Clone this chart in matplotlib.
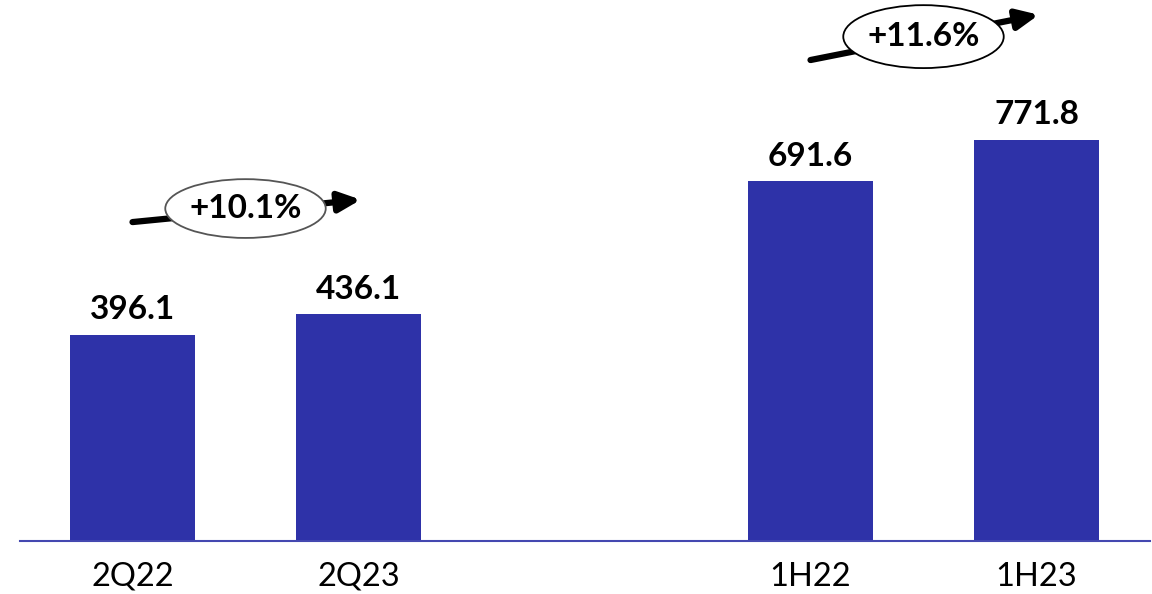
import matplotlib
matplotlib.use("Agg")
import matplotlib.pyplot as plt
from matplotlib.patches import Ellipse

categories = ["2Q22", "2Q23", "1H22", "1H23"]
values = [396.1, 436.1, 691.6, 771.8]
positions = [0, 1, 3, 4]
growth_labels = ["+10.1%", "+11.6%"]
value_labels = ["396.1", "436.1", "691.6", "771.8"]

plt.rcParams['font.family'] = ['Lato', 'DejaVu Sans']

W, H = 1152, 594
fig = plt.figure(figsize=(W / 100, H / 100), dpi=100)
ax = fig.add_axes([19.5 / W, 53 / H, 1130 / W, 541 / H])

bar_color = "#2E32A8"
ax.bar(positions, values, width=0.553, color=bar_color, zorder=2)
ax.set_xlim(-0.5, 4.5)
ax.set_ylim(0, 1040)

for sp in ["top", "right", "left"]:
    ax.spines[sp].set_visible(False)
ax.spines["bottom"].set_color("#4448B0")
ax.spines["bottom"].set_linewidth(1.5)
ax.set_yticks([])
ax.set_xticks(positions)
ax.set_xticklabels(categories, fontsize=23.5)
ax.tick_params(axis="x", length=0, pad=15)

for p, v, lab in zip(positions, values, value_labels):
    ax.text(p, v + 30, lab, ha="center", va="baseline", fontsize=24, fontweight="bold")

# growth arrows with ellipse labels: (left index, right index), offsets relative to left bar value
pairs = [(0, 1), (2, 3)]
tail_off = [217, 233]
head_off = [260, 320]
ell_off = [243, 278]
ell_h = [113, 121]
edge_cols = ["#555555", "black"]
for k, ((i, j), lab) in enumerate(zip(pairs, growth_labels)):
    x0 = positions[i]
    x1 = positions[j]
    base = values[i]
    ax.annotate("", xy=(x1 + 0.01, base + head_off[k]), xytext=(x0, base + tail_off[k]),
                arrowprops=dict(arrowstyle="-|>,head_length=1.3,head_width=0.6",
                                lw=4.5, color="black", shrinkA=0, shrinkB=0),
                zorder=3, annotation_clip=False)
    xc = (x0 + x1) / 2
    yc = base + ell_off[k]
    e = Ellipse((xc, yc), width=0.71, height=ell_h[k], facecolor="white",
                edgecolor=edge_cols[k], lw=1.3, zorder=4, clip_on=False)
    ax.add_patch(e)
    ax.text(xc, yc, lab, ha="center", va="center", fontsize=24, fontweight="bold", zorder=5)

fig.savefig("out.png", dpi=100)
